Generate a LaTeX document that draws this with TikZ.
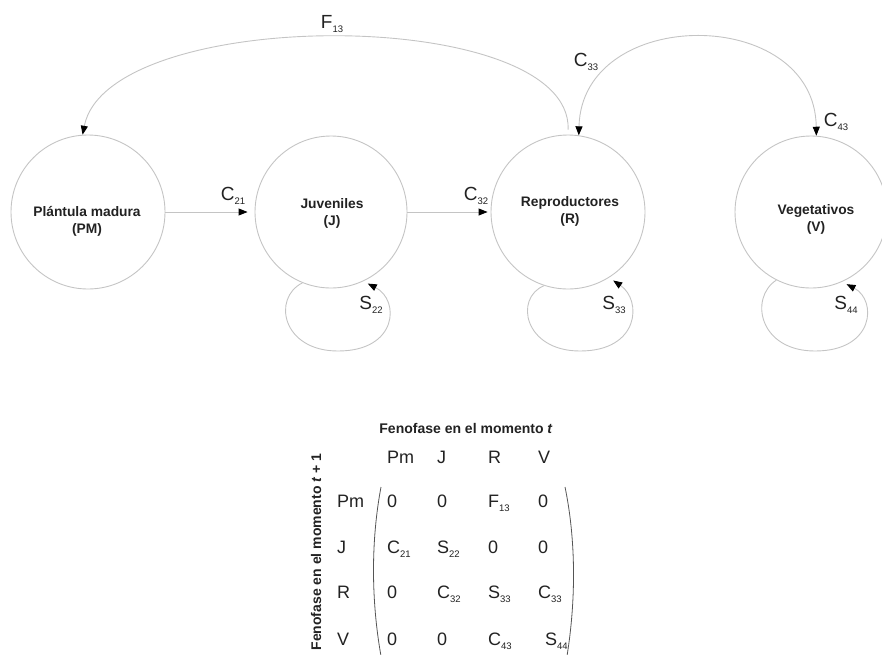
\documentclass[tikz,border=0pt]{standalone}
\usepackage{fontspec}
\setmainfont{Liberation Sans}
\usetikzlibrary{arrows.meta,calc}
\definecolor{linegray}{HTML}{C4C4C4}
\definecolor{txt}{HTML}{222222}
\definecolor{parcol}{HTML}{555555}
\newcommand\sbs[1]{\raisebox{-4.5pt}{\fontsize{9.5}{9.5}\selectfont #1}}
\newcommand\lab[2]{#1\sbs{#2}}
% node, shift, start angle, end angle
\newcommand\selfloop[4]{%
  \draw[conn,shorten >=5pt] (#1.#3)
    .. controls ($(#1)+(-59+#2,-86)$) and ($(#1)+(-49+#2,-139)$) .. ($(#1)+(7+#2,-139)$)
    .. controls ($(#1)+(67+#2,-139)$) and ($(#1)+(69+#2,-88)$) .. (#1.#4);}
\begin{document}
\begin{tikzpicture}[x=1pt,y=1pt,
  stage/.style={circle,draw=linegray,line width=0.9pt,inner sep=0pt},
  stagetext/.style={font=\fontsize{13.8}{17}\selectfont\bfseries,text=txt,align=center,inner sep=0pt},
  conn/.style={draw=linegray,line width=0.9pt,-{Triangle[length=9pt,width=7pt,color=black]}},
  lbl/.style={font=\fontsize{19}{19}\selectfont,text=txt,inner sep=0pt},
  ent/.style={font=\fontsize{18}{18}\selectfont,text=txt,inner sep=0pt,anchor=base west},
  ttl/.style={font=\fontsize{14}{14}\selectfont\bfseries,text=txt,inner sep=0pt}]
\useasboundingbox (0,0) rectangle (882,-654);

% stages
\node[stage,minimum size=154pt] (PM) at (88,-212) {};
\node[stage,minimum size=152pt] (J) at (331,-212) {};
\node[stage,minimum size=154pt] (R) at (568,-212) {};
\node[stage,minimum size=152pt] (V) at (811,-212) {};
\node[stagetext] (pmt) at (87,-221) {Plántula madura\\(PM)};
\node[stagetext] (jt) at (332,-213) {Juveniles\\(J)};
\node[stagetext] (rt) at (570,-211) {Reproductores\\(R)};
\node[stagetext] (vt) at (816,-219) {Vegetativos\\(V)};

% transitions
\draw[conn,shorten >=7pt] (PM) -- (J);
\draw[conn,shorten >=3pt] (J) -- (R);
\draw[conn,shorten <=5pt] (R.north) .. controls (572,-5) and (108,-5) .. (PM.94);
\draw[conn,{Triangle[length=9pt,width=7pt,color=black]}-{Triangle[length=9pt,width=7pt,color=black]}]
  (R.82) .. controls (582,-5) and (815,-5) .. (V.86);

\selfloop{J}{0}{248}{295}
\selfloop{R}{5}{252}{302}
\selfloop{V}{-3}{243}{294}

% labels
\node[lbl] (lf13) at (332,-24) {\lab{F}{13}};
\node[lbl] (lc33) at (586,-62) {\lab{C}{33}};
\node[lbl] (lc43) at (836,-122) {\lab{C}{43}};
\node[lbl] (lc21) at (233,-196) {\lab{C}{21}};
\node[lbl] (lc32) at (476,-196) {\lab{C}{32}};
\node[lbl] (ls22) at (371,-305) {\lab{S}{22}};
\node[lbl] (ls33) at (614,-305) {\lab{S}{33}};
\node[lbl] (ls44) at (846,-305) {\lab{S}{44}};

% matrix
\node[ttl] (title) at (466,-428) {Fenofase en el momento \textit{t}};
\node[ttl,rotate=90] (vtitle) at (316,-552) {Fenofase en el momento \textit{t} + 1};

\node[ent] (h1) at (387,-463) {Pm};
\node[ent] (h2) at (437,-463) {J};
\node[ent] (h3) at (488,-463) {R};
\node[ent] (h4) at (538,-463) {V};

\node[ent] (r1) at (337,-507) {Pm};
\node[ent] (r2) at (337,-553) {J};
\node[ent] (r3) at (337,-598) {R};
\node[ent] (r4) at (337,-645) {V};

\node[ent] (m11) at (387,-507) {0};
\node[ent] (m12) at (437,-507) {0};
\node[ent] (m13) at (488,-507) {\lab{F}{13}};
\node[ent] (m14) at (538,-507) {0};
\node[ent] (m21) at (387,-553) {\lab{C}{21}};
\node[ent] (m22) at (437,-553) {\lab{S}{22}};
\node[ent] (m23) at (488,-553) {0};
\node[ent] (m24) at (538,-553) {0};
\node[ent] (m31) at (387,-598) {0};
\node[ent] (m32) at (437,-598) {\lab{C}{32}};
\node[ent] (m33) at (488,-598) {\lab{S}{33}};
\node[ent] (m34) at (538,-598) {\lab{C}{33}};
\node[ent] (m41) at (387,-645) {0};
\node[ent] (m42) at (437,-645) {0};
\node[ent] (m43) at (488,-645) {\lab{C}{43}};
\node[ent] (m44) at (545,-645) {\lab{S}{44}};

\draw[parcol,line width=0.8pt] (381,-487) .. controls (371,-540) and (371,-600) .. (381,-656);
\draw[parcol,line width=0.8pt] (565,-487) .. controls (576,-540) and (576,-600) .. (567,-656);
\end{tikzpicture}
\end{document}
